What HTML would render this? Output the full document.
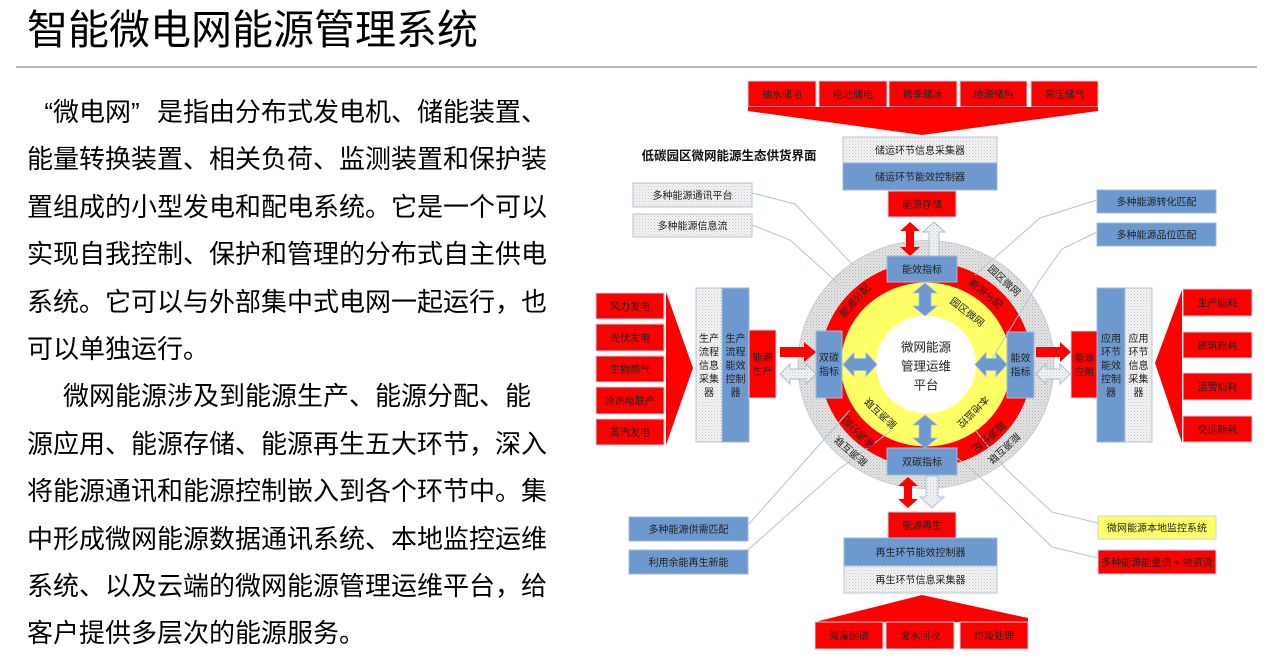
<!DOCTYPE html>
<html><head><meta charset="utf-8">
<style>
html,body{margin:0;padding:0;background:#fff;}
body{width:1285px;height:666px;position:relative;overflow:hidden;font-family:"Liberation Sans","Noto Sans CJK SC",sans-serif;}
.title{position:absolute;left:27px;top:5px;font-size:41px;line-height:50px;color:#000;white-space:nowrap;font-family:"Liberation Sans","Noto Sans CJK SC",sans-serif;}
.para{position:absolute;left:27px;top:89px;font-size:26px;line-height:47.4px;color:#000;white-space:nowrap;font-family:"Liberation Sans","Noto Sans CJK SC",sans-serif;}
.para div{height:47.4px;}
.q{display:inline-block;width:26px;}
svg text{font-family:"Liberation Sans","Noto Sans CJK SC",sans-serif;font-size:10px;fill:#222;text-anchor:middle;}
</style></head>
<body>
<div class="title">智能微电网能源管理系统</div>
<div class="para">
<div><span class="q" style="text-align:right">“</span>微电网<span class="q" style="text-align:left">”</span>是指由分布式发电机、储能装置、</div>
<div>能量转换装置、相关负荷、监测装置和保护装</div>
<div>置组成的小型发电和配电系统。它是一个可以</div>
<div>实现自我控制、保护和管理的分布式自主供电</div>
<div>系统。它可以与外部集中式电网一起运行，也</div>
<div>可以单独运行。</div>
<div style="padding-left:36px">微网能源涉及到能源生产、能源分配、能</div>
<div>源应用、能源存储、能源再生五大环节，深入</div>
<div>将能源通讯和能源控制嵌入到各个环节中。集</div>
<div>中形成微网能源数据通讯系统、本地监控运维</div>
<div>系统、以及云端的微网能源管理运维平台，给</div>
<div>客户提供多层次的能源服务。</div>
</div>

<svg width="1285" height="666" viewBox="0 0 1285 666" style="position:absolute;left:0;top:0">
<defs>
<pattern id="dt" width="3" height="3" patternUnits="userSpaceOnUse"><rect width="3" height="3" fill="#f4f4f4"/><rect x="0" y="0" width="1" height="1" fill="#c6c6c6"/><rect x="1.5" y="1.5" width="1" height="1" fill="#d6d6d6"/></pattern>
<pattern id="dg" width="3" height="3" patternUnits="userSpaceOnUse"><rect width="3" height="3" fill="#e4e4e4"/><rect x="0" y="0" width="1" height="1" fill="#b4b4b4"/><rect x="1.5" y="1.5" width="1" height="1" fill="#c4c4c4"/></pattern>
</defs>

<line x1="16" y1="67" x2="1257" y2="67" stroke="#8a8a8a" stroke-width="1.3"/>

<!-- chart title -->
<text x="729" y="160" style="font-size:12.5px;font-weight:bold;fill:#111">低碳园区微网能源生态供货界面</text>

<!-- circle -->
<ellipse cx="926" cy="364.5" rx="128" ry="124" fill="url(#dg)" stroke="#c4ccd8" stroke-width="1"/>
<ellipse cx="926" cy="364.5" rx="106" ry="103" fill="#ff0000"/>
<ellipse cx="926" cy="364.5" rx="85" ry="82" fill="#ffff66"/>
<ellipse cx="926" cy="364.5" rx="50" ry="49" fill="#ffffff"/>

<!-- connector lines -->
<g fill="none" stroke="#b4c5de" stroke-width="1">
<polyline points="752,193 795,204 852,264"/>
<polyline points="752,225 790,240 840,285"/>
<polyline points="1097,200 1040,218 975,275"/>
<polyline points="1097,232 1062,249 1040,280 990,362"/>
<polyline points="748,525 797,470 850,410"/>
<polyline points="740,557 838,470 892,430"/>
<polyline points="1098,523 1052,512 1007,470 975,430"/>
<polyline points="1098,558 1052,547 980,477 950,452"/>
</g>

<!-- ring texts -->
<g>
<text x="0" y="3.8" transform="translate(854.7,300.3) rotate(-48)">能源分配</text>
<text x="0" y="3.8" transform="translate(985.8,293.3) rotate(40)">能源分配</text>
<text x="0" y="3.8" transform="translate(858.1,432.4) rotate(225)">能源分配</text>
<text x="0" y="3.8" transform="translate(989,437) rotate(139)">能源分配</text>
<text x="0" y="3.8" transform="translate(1004.4,280.4) rotate(43)">园区微网</text>
<text x="0" y="3.8" transform="translate(850.6,451.3) rotate(221)">能源互联</text>
<text x="0" y="3.8" transform="translate(1004.4,448.6) rotate(137)">能源互联</text>
<text x="0" y="3.8" transform="translate(967.3,311.7) rotate(38)">园区微网</text>
<text x="0" y="3.8" transform="translate(880.3,413.5) rotate(223)">能源互联</text>
<text x="0" y="3.8" transform="translate(973.4,411.9) rotate(135)">本地监控</text>
</g>

<!-- center text -->
<text x="926" y="351.5" style="font-size:12.5px">微网能源</text>
<text x="926" y="370.5" style="font-size:12.5px">管理运维</text>
<text x="926" y="389.5" style="font-size:12.5px">平台</text>

<!-- blue inner arrows -->
<g fill="#6e99cf" stroke="#a3bde0" stroke-width="0.8">
<polygon points="925,283 937,293 931,293 931,306 937,306 925,316 913,306 919,306 919,293 913,293"/>
<polygon points="925,415 937,425 931,425 931,438 937,438 925,448 913,438 919,438 919,425 913,425"/>
<polygon points="843,364.5 854,352.5 854,358.5 866,358.5 866,352.5 877,364.5 866,376.5 866,370.5 854,370.5 854,376.5"/>
<polygon points="975,364.5 986,352.5 986,358.5 996,358.5 996,352.5 1007,364.5 996,376.5 996,370.5 986,370.5 986,376.5"/>
</g>

<!-- outer arrows -->
<g fill="#ff0000">
<polygon points="910,222 920,231 914,231 914,247 920,247 910,256 900,247 906,247 906,231 900,231"/>
<polygon points="908,477 918,486 912,486 912,499 918,499 908,508 898,499 904,499 904,486 898,486"/>
<polygon points="780,347 804,347 804,342 816,352 804,362 804,357 780,357"/>
<polygon points="1036,347 1060,347 1060,342 1071,352 1060,362 1060,357 1036,357"/>
</g>
<g fill="url(#dt)" stroke="#a9bedb" stroke-width="1">
<polygon points="934,222 945,232 939,232 939,256 929,256 929,232 923,232"/>
<polygon points="926,476 938,476 938,497 944,497 932,508 920,497 926,497"/>
<polygon points="780,374 790,364 790,369 806,369 806,364 816,374 806,384 806,379 790,379 790,384"/>
<polygon points="1036,374 1046,364 1046,369 1060,369 1060,364 1070,374 1060,384 1060,379 1046,379 1046,384"/>
</g>

<!-- circle boxes -->
<g fill="#6e99cf" stroke="#9fbadf" stroke-width="1">
<rect x="887" y="256" width="70" height="26"/>
<rect x="887" y="448" width="70" height="27"/>
<rect x="816" y="331" width="26" height="67"/>
<rect x="1007" y="332" width="27" height="66"/>
</g>
<text x="922" y="273">能效指标</text>
<text x="922" y="465.3">双碳指标</text>
<text x="829" y="361">双碳</text>
<text x="829" y="375">指标</text>
<text x="1020.5" y="361.5">能效</text>
<text x="1020.5" y="375.5">指标</text>

<!-- TOP -->
<g fill="#ff0000" stroke="#c9d3e3" stroke-width="1">
<rect x="748" y="81" width="68" height="26"/>
<rect x="819" y="81" width="68" height="26"/>
<rect x="889" y="81" width="68" height="26"/>
<rect x="960" y="81" width="67" height="26"/>
<rect x="1031" y="81" width="67" height="26"/>
</g>
<polygon points="748,107 1098,107 1098,111 922,135 748,111" fill="#ff0000"/>
<text x="782" y="97.8">抽水储电</text>
<text x="853" y="97.8">电池储电</text>
<text x="923" y="97.8">跨季储冰</text>
<text x="993.5" y="97.8">地源储热</text>
<text x="1064.5" y="97.8">高压储气</text>

<rect x="843" y="137" width="154" height="26" fill="url(#dt)" stroke="#b3c4dc"/>
<rect x="843" y="163" width="154" height="27" fill="#6e99cf" stroke="#9fbadf"/>
<rect x="888" y="191" width="68" height="26" fill="#ff0000" stroke="#c9d3e3"/>
<text x="920" y="153.8">储运环节信息采集器</text>
<text x="920" y="180.3">储运环节能效控制器</text>
<text x="922" y="207.8">能源存储</text>

<rect x="633" y="183" width="119" height="24" fill="url(#dt)" stroke="#b3c4dc"/>
<rect x="633" y="214" width="119" height="23" fill="url(#dt)" stroke="#b3c4dc"/>
<text x="692.5" y="198.8">多种能源通讯平台</text>
<text x="692.5" y="229.3">多种能源信息流</text>

<rect x="1097" y="190" width="119" height="23" fill="#6e99cf" stroke="#9fbadf"/>
<rect x="1097" y="223" width="119" height="23" fill="#6e99cf" stroke="#9fbadf"/>
<text x="1156.5" y="205.3">多种能源转化匹配</text>
<text x="1156.5" y="238.3">多种能源品位匹配</text>

<!-- LEFT -->
<g fill="#ff0000" stroke="#c9d3e3" stroke-width="1">
<rect x="596" y="293" width="68" height="26"/>
<rect x="596" y="324" width="68" height="27"/>
<rect x="596" y="356" width="68" height="26"/>
<rect x="596" y="387" width="68" height="27"/>
<rect x="596" y="419" width="68" height="26"/>
</g>
<polygon points="666,292 666,445 693,368" fill="#ff0000"/>
<text x="630" y="309.8">风力发电</text>
<text x="630" y="341.3">光伏发电</text>
<text x="630" y="372.8">生物燃气</text>
<text x="630" y="404.3">冷热电联产</text>
<text x="630" y="435.8">蒸汽发电</text>

<rect x="696" y="288" width="26" height="154" fill="url(#dt)" stroke="#b3c4dc"/>
<rect x="722" y="288" width="27" height="154" fill="#6e99cf" stroke="#9fbadf"/>
<rect x="749" y="330" width="27" height="68" fill="#ff0000" stroke="#c9d3e3"/>
<text x="709" y="341.8">生产</text>
<text x="709" y="355.3">流程</text>
<text x="709" y="368.8">信息</text>
<text x="709" y="382.3">采集</text>
<text x="709" y="395.8">器</text>
<text x="735.5" y="341.8">生产</text>
<text x="735.5" y="355.3">流程</text>
<text x="735.5" y="368.8">能效</text>
<text x="735.5" y="382.3">控制</text>
<text x="735.5" y="395.8">器</text>
<text x="762.5" y="360.8">能源</text>
<text x="762.5" y="374.8">生产</text>

<!-- RIGHT -->
<rect x="1071" y="331" width="26" height="67" fill="#ff0000" stroke="#c9d3e3"/>
<rect x="1097" y="288" width="28" height="154" fill="#6e99cf" stroke="#9fbadf"/>
<rect x="1125" y="288" width="27" height="154" fill="url(#dt)" stroke="#b3c4dc"/>
<text x="1084" y="361.3">能源</text>
<text x="1084" y="375.3">应用</text>
<text x="1111" y="341.8">应用</text>
<text x="1111" y="355.3">环节</text>
<text x="1111" y="368.8">能效</text>
<text x="1111" y="382.3">控制</text>
<text x="1111" y="395.8">器</text>
<text x="1138.5" y="341.8">应用</text>
<text x="1138.5" y="355.3">环节</text>
<text x="1138.5" y="368.8">信息</text>
<text x="1138.5" y="382.3">采集</text>
<text x="1138.5" y="395.8">器</text>
<polygon points="1182,290 1182,443 1155,363" fill="#ff0000"/>
<g fill="#ff0000" stroke="#c9d3e3" stroke-width="1">
<rect x="1183" y="289" width="69" height="27"/>
<rect x="1183" y="332" width="69" height="26"/>
<rect x="1183" y="373" width="69" height="27"/>
<rect x="1183" y="416" width="69" height="26"/>
</g>
<text x="1217.5" y="306.3">生产能耗</text>
<text x="1217.5" y="348.8">建筑能耗</text>
<text x="1217.5" y="390.3">运营能耗</text>
<text x="1217.5" y="432.8">交运能耗</text>

<!-- BOTTOM -->
<rect x="629" y="517" width="119" height="24" fill="#6e99cf" stroke="#9fbadf"/>
<rect x="629" y="550" width="119" height="24" fill="#6e99cf" stroke="#9fbadf"/>
<text x="688.5" y="532.8">多种能源供需匹配</text>
<text x="688.5" y="565.8">利用余能再生新能</text>

<rect x="888" y="512" width="68" height="26" fill="#ff0000" stroke="#c9d3e3"/>
<rect x="844" y="538" width="153" height="28" fill="#6e99cf" stroke="#9fbadf"/>
<rect x="844" y="566" width="153" height="27" fill="url(#dt)" stroke="#b3c4dc"/>
<text x="922" y="528.8">能源再生</text>
<text x="920.5" y="555.8">再生环节能效控制器</text>
<text x="920.5" y="583.3">再生环节信息采集器</text>
<polygon points="815,622 922,595 1028,618 1028,622" fill="#ff0000"/>
<g fill="#ff0000" stroke="#c9d3e3" stroke-width="1">
<rect x="815" y="622" width="68" height="27"/>
<rect x="886" y="622" width="68" height="27"/>
<rect x="960" y="622" width="68" height="27"/>
</g>
<text x="849" y="639.3">海藻固碳</text>
<text x="920" y="639.3">废水回收</text>
<text x="994" y="639.3">垃圾处理</text>

<rect x="1098" y="516" width="118" height="23" fill="#ffff66" stroke="#c9d3e3"/>
<rect x="1098" y="550" width="118" height="24" fill="#ff0000" stroke="#c9d3e3"/>
<text x="1157" y="531.3">微网能源本地监控系统</text>
<text x="1157" y="565.8">多种能源能量流 + 物资流</text>
</svg>
</body></html>
